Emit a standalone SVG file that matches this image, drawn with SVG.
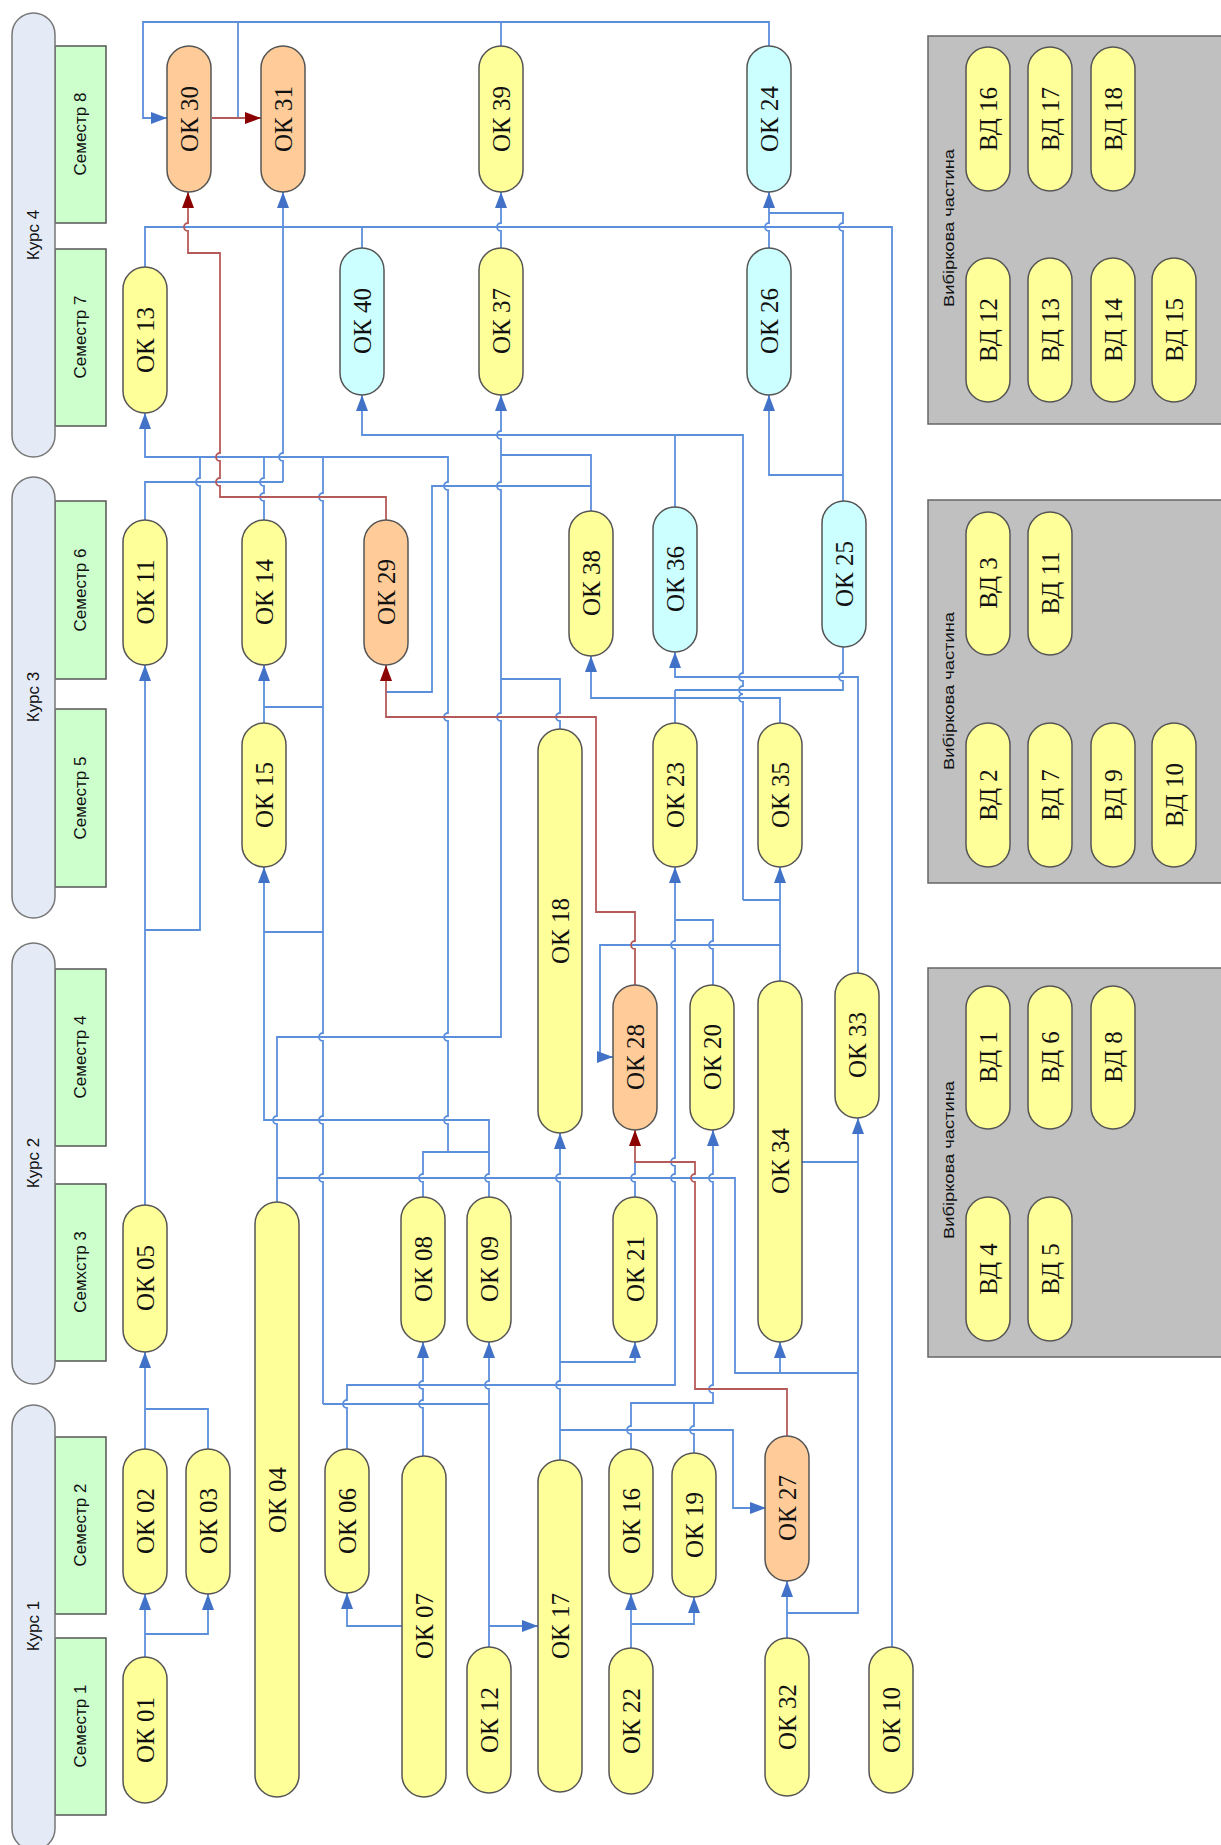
<svg xmlns="http://www.w3.org/2000/svg" width="1221" height="1845" viewBox="0 0 1221 1845">
<defs>
<style>
.kurs{fill:#E4EBF7;stroke:#777;stroke-width:1.5}
.sem{fill:#CCFFCC;stroke:#555;stroke-width:1.5}
.lb{font-family:"Liberation Sans",Arial,sans-serif;font-size:17px;fill:#111;text-anchor:middle;dominant-baseline:central}
.nd rect{stroke:#555;stroke-width:1.5}
.y rect{fill:#FFFF99}
.o rect{fill:#FFCC99}
.c rect{fill:#CCFFFF}
.nd text{font-family:"Liberation Serif","Times New Roman",serif;font-size:25px;fill:#111;text-anchor:middle;dominant-baseline:central}
.grey{fill:#C0C0C0;stroke:#666;stroke-width:1.5}
.vl{font-family:"Liberation Sans",Arial,sans-serif;font-size:15px;fill:#111;text-anchor:middle;dominant-baseline:central}
.p{fill:none;stroke:#5B8FDC;stroke-width:1.8}
.a{marker-end:url(#ab)}
.r{fill:none;stroke:#B55A5A;stroke-width:1.8;marker-end:url(#ar)}
</style>
<marker id="ab" viewBox="0 0 16 12" refX="16" refY="6" markerWidth="16" markerHeight="12" markerUnits="userSpaceOnUse" orient="auto"><path d="M0,0 L16,6 L0,12 z" fill="#4272C8"/></marker>
<marker id="ar" viewBox="0 0 16 12" refX="16" refY="6" markerWidth="16" markerHeight="12" markerUnits="userSpaceOnUse" orient="auto"><path d="M0,0 L16,6 L0,12 z" fill="#8B0000"/></marker>
</defs>
<rect width="1221" height="1845" fill="#fff"/>

<g id="lanes">
<rect class="sem" x="55" y="46" width="51" height="177"/>
<rect class="sem" x="55" y="249" width="51" height="177"/>
<rect class="sem" x="55" y="501" width="51" height="178"/>
<rect class="sem" x="55" y="709" width="51" height="178"/>
<rect class="sem" x="55" y="969" width="51" height="177"/>
<rect class="sem" x="55" y="1184" width="51" height="177"/>
<rect class="sem" x="55" y="1437" width="51" height="177"/>
<rect class="sem" x="55" y="1638" width="51" height="177"/>
<rect class="kurs" x="12" y="13" width="43" height="444" rx="21.5"/>
<rect class="kurs" x="12" y="477" width="43" height="441" rx="21.5"/>
<rect class="kurs" x="12" y="943" width="43" height="441" rx="21.5"/>
<rect class="kurs" x="12" y="1405" width="43" height="445" rx="21.5"/>
<text class="lb" x="33" y="235" transform="rotate(-90 33 235)">Курс 4</text>
<text class="lb" x="33" y="697" transform="rotate(-90 33 697)">Курс 3</text>
<text class="lb" x="33" y="1163" transform="rotate(-90 33 1163)">Курс 2</text>
<text class="lb" x="33" y="1626" transform="rotate(-90 33 1626)">Курс 1</text>
<text class="lb" x="80" y="134" transform="rotate(-90 80 134)">Семестр 8</text>
<text class="lb" x="80" y="337" transform="rotate(-90 80 337)">Семестр 7</text>
<text class="lb" x="80" y="590" transform="rotate(-90 80 590)">Семестр 6</text>
<text class="lb" x="80" y="798" transform="rotate(-90 80 798)">Семестр 5</text>
<text class="lb" x="80" y="1057" transform="rotate(-90 80 1057)">Семестр 4</text>
<text class="lb" x="80" y="1272" transform="rotate(-90 80 1272)">Семхстр 3</text>
<text class="lb" x="80" y="1525" transform="rotate(-90 80 1525)">Семестр 2</text>
<text class="lb" x="80" y="1726" transform="rotate(-90 80 1726)">Семестр 1</text>
</g>

<g id="connectors">
<path class="p a" d="M769,46 V22 H143 V118 H167"/>
<path class="p" d="M238,22 V118"/>
<path class="p" d="M501,46 V22"/>
<path class="p" d="M892,1647 V227 H145 V267"/>
<path class="p a" d="M283,482 V461 A4,4 0 0 1 283,453 V192"/>
<path class="p" d="M362,248 V227"/>
<path class="p a" d="M501,248 V231 A4,4 0 0 1 501,223 V192"/>
<path class="p a" d="M769,248 V231 A4,4 0 0 1 769,223 V192"/>
<path class="p" d="M843,501 V231 A4,4 0 0 1 843,223 V213 H769"/>
<path class="p a" d="M843,475 H769 V395"/>
<path class="p a" d="M743,900 V702 A4,4 0 0 1 743,694 A4,4 0 0 1 743,686 V681 A4,4 0 0 1 743,673 V435 H362 V395"/>
<path class="p" d="M675,507 V435"/>
<path class="p a" d="M780,981 V867"/>
<path class="p" d="M780,900 H743"/>
<path class="p a" d="M780,945 H600 V1057 H613"/>
<path class="p a" d="M858,973 V677 H675 V652"/>
<path class="p" d="M843,647 V673 A4,4 0 0 0 843,681 V690 H675"/>
<path class="p a" d="M780,723 V698 H591 V656"/>
<path class="p" d="M675,723 V690"/>
<path class="p" d="M591,511 V455 H501"/>
<path class="p" d="M591,486 H432 V692 H386"/>
<path class="p a" d="M277,1202 V1124 A4,4 0 0 1 277,1116 V1037 H501 V721 A4,4 0 0 1 501,713 V490 A4,4 0 0 1 501,482 V439 A4,4 0 0 1 501,431 V395"/>
<path class="p" d="M560,729 V721 A4,4 0 0 1 560,713 V679 H501"/>
<path class="p" d="M277,1178 H735 V1373 H858"/>
<path class="p a" d="M780,1373 V1342"/>
<path class="p a" d="M448,1152 V1124 A4,4 0 0 1 448,1116 V1041 A4,4 0 0 1 448,1033 V721 A4,4 0 0 1 448,713 V490 A4,4 0 0 1 448,482 V457 H145 V413"/>
<path class="p" d="M423,1197 V1182 A4,4 0 0 1 423,1174 V1152 H489"/>
<path class="p a" d="M489,1197 V1182 A4,4 0 0 1 489,1174 V1120 H264 V867"/>
<path class="p" d="M264,932 H323"/>
<path class="p" d="M323,1404 V1182 A4,4 0 0 1 323,1174 V1124 A4,4 0 0 1 323,1116 V1041 A4,4 0 0 1 323,1033 V501 A4,4 0 0 1 323,493 V457"/>
<path class="p a" d="M264,723 V665"/>
<path class="p" d="M264,707 H323"/>
<path class="p" d="M264,520 V501 A4,4 0 0 1 264,493 V486 A4,4 0 0 1 264,478 V457"/>
<path class="p a" d="M145,1205 V665"/>
<path class="p" d="M145,930 H200 V486 A4,4 0 0 1 200,478 V457"/>
<path class="p" d="M145,520 V482 H283"/>
<path class="p a" d="M560,1460 V1389 A4,4 0 0 1 560,1381 V1182 A4,4 0 0 1 560,1174 V1133"/>
<path class="p a" d="M560,1362 H635 V1342"/>
<path class="p a" d="M560,1430 H733 V1508 H766"/>
<path class="p a" d="M489,1647 V1389 A4,4 0 0 1 489,1381 V1342"/>
<path class="p" d="M489,1404 H323"/>
<path class="p a" d="M489,1626 H538"/>
<path class="p a" d="M423,1456 V1408 A4,4 0 0 1 423,1400 V1389 A4,4 0 0 1 423,1381 V1342"/>
<path class="p a" d="M402,1626 H347 V1593"/>
<path class="p a" d="M347,1449 V1408 A4,4 0 0 1 347,1400 V1385 H675 V1182 A4,4 0 0 1 675,1174 V1166 A4,4 0 0 1 675,1158 V949 A4,4 0 0 1 675,941 V867"/>
<path class="p" d="M675,920 H713 V941 A4,4 0 0 0 713,949 V985"/>
<path class="p a" d="M631,1449 V1434 A4,4 0 0 1 631,1426 V1403 H713 V1393 A4,4 0 0 1 713,1385 V1182 A4,4 0 0 1 713,1174 V1130"/>
<path class="p" d="M694,1453 V1434 A4,4 0 0 1 694,1426 V1403"/>
<path class="p" d="M635,1197 V1182 A4,4 0 0 1 635,1174 V1162"/>
<path class="p a" d="M787,1638 V1581"/>
<path class="p a" d="M787,1613 H858 V1118"/>
<path class="p" d="M802,1162 H858"/>
<path class="p a" d="M145,1657 V1594"/>
<path class="p a" d="M145,1634 H208 V1594"/>
<path class="p a" d="M145,1449 V1352"/>
<path class="p" d="M208,1449 V1409 H145"/>
<path class="p a" d="M631,1648 V1594"/>
<path class="p a" d="M631,1624 H694 V1597"/>
<path class="r" d="M212,118 H261"/>
<path class="r" d="M386,520 V497 H220 V486 A4,4 0 0 1 220,478 V461 A4,4 0 0 1 220,453 V253 H188 V231 A4,4 0 0 1 188,223 V192"/>
<path class="r" d="M635,985 V949 A4,4 0 0 1 635,941 V912 H596 V717 H386 V665"/>
<path class="r" d="M787,1436 V1389 H695 V1182 A4,4 0 0 1 695,1174 V1162 H635 V1130"/>
</g>

<g id="ok30" class="nd o"><rect x="167" y="46" width="44" height="146" rx="22"/><text x="189" y="119" transform="rotate(-90 189 119)">ОК 30</text></g>
<g id="ok31" class="nd o"><rect x="261" y="46" width="44" height="146" rx="22"/><text x="283" y="119" transform="rotate(-90 283 119)">ОК 31</text></g>
<g id="ok39" class="nd y"><rect x="479" y="46" width="44" height="146" rx="22"/><text x="501" y="119" transform="rotate(-90 501 119)">ОК 39</text></g>
<g id="ok24" class="nd c"><rect x="747" y="46" width="44" height="146" rx="22"/><text x="769" y="119" transform="rotate(-90 769 119)">ОК 24</text></g>
<g id="ok13" class="nd y"><rect x="123" y="267" width="44" height="146" rx="22"/><text x="145" y="340" transform="rotate(-90 145 340)">ОК 13</text></g>
<g id="ok40" class="nd c"><rect x="340" y="248" width="44" height="147" rx="22"/><text x="362" y="321" transform="rotate(-90 362 321)">ОК 40</text></g>
<g id="ok37" class="nd y"><rect x="479" y="248" width="44" height="147" rx="22"/><text x="501" y="321" transform="rotate(-90 501 321)">ОК 37</text></g>
<g id="ok26" class="nd c"><rect x="747" y="248" width="44" height="147" rx="22"/><text x="769" y="321" transform="rotate(-90 769 321)">ОК 26</text></g>
<g id="ok11" class="nd y"><rect x="123" y="520" width="44" height="145" rx="22"/><text x="145" y="592" transform="rotate(-90 145 592)">ОК 11</text></g>
<g id="ok14" class="nd y"><rect x="242" y="520" width="44" height="145" rx="22"/><text x="264" y="592" transform="rotate(-90 264 592)">ОК 14</text></g>
<g id="ok29" class="nd o"><rect x="364" y="520" width="44" height="145" rx="22"/><text x="386" y="592" transform="rotate(-90 386 592)">ОК 29</text></g>
<g id="ok38" class="nd y"><rect x="569" y="511" width="44" height="145" rx="22"/><text x="591" y="583" transform="rotate(-90 591 583)">ОК 38</text></g>
<g id="ok36" class="nd c"><rect x="653" y="507" width="44" height="145" rx="22"/><text x="675" y="579" transform="rotate(-90 675 579)">ОК 36</text></g>
<g id="ok25" class="nd c"><rect x="822" y="501" width="44" height="146" rx="22"/><text x="844" y="574" transform="rotate(-90 844 574)">ОК 25</text></g>
<g id="ok15" class="nd y"><rect x="242" y="723" width="44" height="144" rx="22"/><text x="264" y="795" transform="rotate(-90 264 795)">ОК 15</text></g>
<g id="ok18" class="nd y"><rect x="538" y="729" width="44" height="404" rx="22"/><text x="560" y="931" transform="rotate(-90 560 931)">ОК 18</text></g>
<g id="ok23" class="nd y"><rect x="653" y="723" width="44" height="144" rx="22"/><text x="675" y="795" transform="rotate(-90 675 795)">ОК 23</text></g>
<g id="ok35" class="nd y"><rect x="758" y="723" width="44" height="144" rx="22"/><text x="780" y="795" transform="rotate(-90 780 795)">ОК 35</text></g>
<g id="ok28" class="nd o"><rect x="613" y="985" width="44" height="145" rx="22"/><text x="635" y="1057" transform="rotate(-90 635 1057)">ОК 28</text></g>
<g id="ok20" class="nd y"><rect x="690" y="985" width="44" height="145" rx="22"/><text x="712" y="1057" transform="rotate(-90 712 1057)">ОК 20</text></g>
<g id="ok34" class="nd y"><rect x="758" y="981" width="44" height="361" rx="22"/><text x="780" y="1161" transform="rotate(-90 780 1161)">ОК 34</text></g>
<g id="ok33" class="nd y"><rect x="835" y="973" width="44" height="145" rx="22"/><text x="857" y="1045" transform="rotate(-90 857 1045)">ОК 33</text></g>
<g id="ok05" class="nd y"><rect x="123" y="1205" width="44" height="147" rx="22"/><text x="145" y="1278" transform="rotate(-90 145 1278)">ОК 05</text></g>
<g id="ok04" class="nd y"><rect x="255" y="1202" width="44" height="595" rx="22"/><text x="277" y="1500" transform="rotate(-90 277 1500)">ОК 04</text></g>
<g id="ok08" class="nd y"><rect x="401" y="1197" width="44" height="145" rx="22"/><text x="423" y="1269" transform="rotate(-90 423 1269)">ОК 08</text></g>
<g id="ok09" class="nd y"><rect x="467" y="1197" width="44" height="145" rx="22"/><text x="489" y="1269" transform="rotate(-90 489 1269)">ОК 09</text></g>
<g id="ok21" class="nd y"><rect x="613" y="1197" width="44" height="145" rx="22"/><text x="635" y="1269" transform="rotate(-90 635 1269)">ОК 21</text></g>
<g id="ok02" class="nd y"><rect x="123" y="1449" width="44" height="145" rx="22"/><text x="145" y="1521" transform="rotate(-90 145 1521)">ОК 02</text></g>
<g id="ok03" class="nd y"><rect x="186" y="1449" width="44" height="145" rx="22"/><text x="208" y="1521" transform="rotate(-90 208 1521)">ОК 03</text></g>
<g id="ok06" class="nd y"><rect x="325" y="1449" width="44" height="144" rx="22"/><text x="347" y="1521" transform="rotate(-90 347 1521)">ОК 06</text></g>
<g id="ok07" class="nd y"><rect x="402" y="1456" width="44" height="341" rx="22"/><text x="424" y="1626" transform="rotate(-90 424 1626)">ОК 07</text></g>
<g id="ok17" class="nd y"><rect x="538" y="1460" width="44" height="332" rx="22"/><text x="560" y="1626" transform="rotate(-90 560 1626)">ОК 17</text></g>
<g id="ok16" class="nd y"><rect x="609" y="1449" width="44" height="145" rx="22"/><text x="631" y="1521" transform="rotate(-90 631 1521)">ОК 16</text></g>
<g id="ok19" class="nd y"><rect x="672" y="1453" width="44" height="144" rx="22"/><text x="694" y="1525" transform="rotate(-90 694 1525)">ОК 19</text></g>
<g id="ok27" class="nd o"><rect x="765" y="1436" width="44" height="145" rx="22"/><text x="787" y="1508" transform="rotate(-90 787 1508)">ОК 27</text></g>
<g id="ok01" class="nd y"><rect x="123" y="1657" width="44" height="146" rx="22"/><text x="145" y="1730" transform="rotate(-90 145 1730)">ОК 01</text></g>
<g id="ok12" class="nd y"><rect x="467" y="1647" width="44" height="146" rx="22"/><text x="489" y="1720" transform="rotate(-90 489 1720)">ОК 12</text></g>
<g id="ok22" class="nd y"><rect x="609" y="1648" width="44" height="146" rx="22"/><text x="631" y="1721" transform="rotate(-90 631 1721)">ОК 22</text></g>
<g id="ok32" class="nd y"><rect x="765" y="1638" width="44" height="158" rx="22"/><text x="787" y="1717" transform="rotate(-90 787 1717)">ОК 32</text></g>
<g id="ok10" class="nd y"><rect x="869" y="1647" width="44" height="146" rx="22"/><text x="891" y="1720" transform="rotate(-90 891 1720)">ОК 10</text></g>

<g id="elective1">
<rect class="grey" x="928" y="36" width="294" height="388"/>
<text class="vl" x="948" y="228" transform="rotate(-90 948 228)" textLength="158" lengthAdjust="spacingAndGlyphs">Вибіркова частина</text>
<g id="vd16" class="nd y"><rect x="966" y="47" width="44" height="144" rx="22"/><text x="988" y="119" transform="rotate(-90 988 119)">ВД 16</text></g>
<g id="vd17" class="nd y"><rect x="1028" y="47" width="44" height="144" rx="22"/><text x="1050" y="119" transform="rotate(-90 1050 119)">ВД 17</text></g>
<g id="vd18" class="nd y"><rect x="1091" y="47" width="44" height="144" rx="22"/><text x="1113" y="119" transform="rotate(-90 1113 119)">ВД 18</text></g>
<g id="vd12" class="nd y"><rect x="966" y="258" width="44" height="144" rx="22"/><text x="988" y="330" transform="rotate(-90 988 330)">ВД 12</text></g>
<g id="vd13" class="nd y"><rect x="1028" y="258" width="44" height="144" rx="22"/><text x="1050" y="330" transform="rotate(-90 1050 330)">ВД 13</text></g>
<g id="vd14" class="nd y"><rect x="1091" y="258" width="44" height="144" rx="22"/><text x="1113" y="330" transform="rotate(-90 1113 330)">ВД 14</text></g>
<g id="vd15" class="nd y"><rect x="1152" y="258" width="44" height="144" rx="22"/><text x="1174" y="330" transform="rotate(-90 1174 330)">ВД 15</text></g>
</g>
<g id="elective2">
<rect class="grey" x="928" y="500" width="294" height="383"/>
<text class="vl" x="948" y="691" transform="rotate(-90 948 691)" textLength="158" lengthAdjust="spacingAndGlyphs">Вибіркова частина</text>
<g id="vd3" class="nd y"><rect x="966" y="512" width="44" height="143" rx="22"/><text x="988" y="583" transform="rotate(-90 988 583)">ВД 3</text></g>
<g id="vd11" class="nd y"><rect x="1028" y="512" width="44" height="143" rx="22"/><text x="1050" y="583" transform="rotate(-90 1050 583)">ВД 11</text></g>
<g id="vd2" class="nd y"><rect x="966" y="723" width="44" height="144" rx="22"/><text x="988" y="795" transform="rotate(-90 988 795)">ВД 2</text></g>
<g id="vd7" class="nd y"><rect x="1028" y="723" width="44" height="144" rx="22"/><text x="1050" y="795" transform="rotate(-90 1050 795)">ВД 7</text></g>
<g id="vd9" class="nd y"><rect x="1091" y="723" width="44" height="144" rx="22"/><text x="1113" y="795" transform="rotate(-90 1113 795)">ВД 9</text></g>
<g id="vd10" class="nd y"><rect x="1152" y="723" width="44" height="144" rx="22"/><text x="1174" y="795" transform="rotate(-90 1174 795)">ВД 10</text></g>
</g>
<g id="elective3">
<rect class="grey" x="928" y="968" width="294" height="389"/>
<text class="vl" x="948" y="1160" transform="rotate(-90 948 1160)" textLength="158" lengthAdjust="spacingAndGlyphs">Вибіркова частина</text>
<g id="vd1" class="nd y"><rect x="966" y="986" width="44" height="143" rx="22"/><text x="988" y="1057" transform="rotate(-90 988 1057)">ВД 1</text></g>
<g id="vd6" class="nd y"><rect x="1028" y="986" width="44" height="143" rx="22"/><text x="1050" y="1057" transform="rotate(-90 1050 1057)">ВД 6</text></g>
<g id="vd8" class="nd y"><rect x="1091" y="986" width="44" height="143" rx="22"/><text x="1113" y="1057" transform="rotate(-90 1113 1057)">ВД 8</text></g>
<g id="vd4" class="nd y"><rect x="966" y="1197" width="44" height="144" rx="22"/><text x="988" y="1269" transform="rotate(-90 988 1269)">ВД 4</text></g>
<g id="vd5" class="nd y"><rect x="1028" y="1197" width="44" height="144" rx="22"/><text x="1050" y="1269" transform="rotate(-90 1050 1269)">ВД 5</text></g>
</g>
</svg>
